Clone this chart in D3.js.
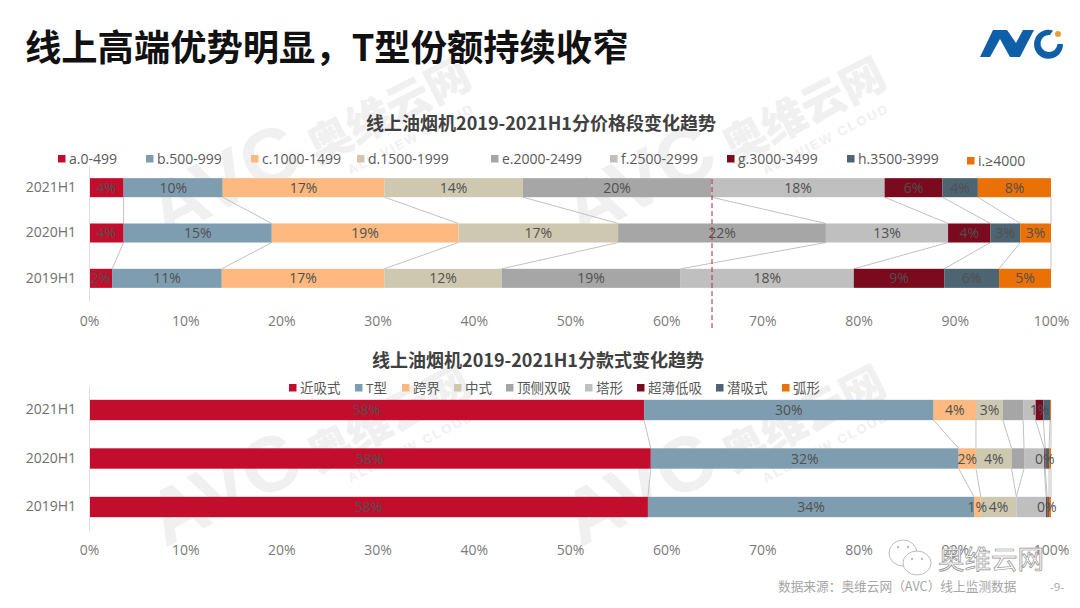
<!DOCTYPE html>
<html>
<head>
<meta charset="utf-8">
<script src="https://cdn.jsdelivr.net/npm/d3@7"></script>
<style>
  html, body { margin: 0; padding: 0; background: #fff; }
  svg { display: block; font-family: "Open Sans", "Noto Sans CJK SC", sans-serif; }
  .cjk { font-family: "Noto Sans CJK SC", sans-serif; }
</style>
</head>
<body>
<svg id="chart" width="1080" height="608"></svg>
<script>
const periods = ["2021H1", "2020H1", "2019H1"];
const xTicks = [0, 10, 20, 30, 40, 50, 60, 70, 80, 90, 100];

const priceSegments = ["a.0-499", "b.500-999", "c.1000-1499", "d.1500-1999", "e.2000-2499", "f.2500-2999", "g.3000-3499", "h.3500-3999", "i.≥4000"];
const price2021 = [3.6, 10.3, 16.8, 14.4, 19.6, 18.0, 6.0, 3.7, 7.6];
const price2020 = [3.6, 15.4, 19.4, 16.6, 21.6, 12.7, 4.4, 3.1, 3.2];
const price2019 = [2.4, 11.4, 16.9, 12.2, 18.6, 18.0, 9.4, 5.7, 5.4];

const styleSegments = ["近吸式", "T型", "跨界", "中式", "顶侧双吸", "塔形", "超薄低吸", "潜吸式", "弧形"];
const style2021 = [57.7, 30.1, 4.4, 2.8, 2.1, 1.3, 0.8, 0.7, 0.1];
const style2020 = [58.4, 32.0, 1.8, 3.7, 1.3, 2.1, 0.1, 0.4, 0.2];
const style2019 = [58.1, 33.9, 0.7, 3.7, 0.0, 3.1, 0.1, 0.2, 0.2];
const styleLabelled = ["近吸式", "T型", "跨界", "中式", "超薄低吸"];

const segmentColors = ["#c20e2c", "#7f9db1", "#fdb97f", "#cfc8b0", "#a6a6a6", "#bfbfbf", "#7a0a1e", "#4d6472", "#ea7105"];

const svg = d3.select("#chart");
const x = d3.scaleLinear().domain([0, 100]).range([89, 1051]);

function watermark(ox, oy) {
    const g = svg.append("g")
        .attr("transform", `translate(${ox},${oy}) rotate(-27)`)
        .attr("fill", "#f0f0f0");
    g.append("text").attr("x", 0).attr("y", 0)
        .attr("font-family", "Liberation Sans").attr("font-weight", 700).attr("font-size", 78)
        .text("AVC");
    g.append("text").attr("class", "cjk").attr("x", 170).attr("y", 2)
        .attr("font-weight", 900).attr("font-size", 44)
        .text("奥维云网");
    g.append("text").attr("x", 195).attr("y", 26)
        .attr("font-family", "Liberation Sans").attr("font-weight", 700).attr("font-size", 13)
        .attr("letter-spacing", 2)
        .text("ALL VIEW CLOUD");
}

function drawStack(opts) {
    const keys = opts.keys;
    const rows = periods.map((p, i) => {
        const row = { period: p };
        keys.forEach((k, j) => { row[k] = opts.values[i][j]; });
        return row;
    });
    const series = d3.stack().keys(keys)(rows);
    const color = d3.scaleOrdinal().domain(keys).range(segmentColors);
    const y = d3.scaleBand().domain(periods).range(opts.yRange).paddingInner(0.58).paddingOuter(0.29);

    const g = svg.append("g");

    // connector lines between the bars
    series.forEach((s) => {
        d3.pairs(s).forEach(([a, b]) => {
            g.append("line")
                .attr("x1", x(a[1])).attr("x2", x(b[1]))
                .attr("y1", y(a.data.period) + y.bandwidth())
                .attr("y2", y(b.data.period))
                .attr("stroke", "#c4c0c0").attr("stroke-width", 1);
        });
    });

    g.selectAll("g.seg").data(series).join("g").attr("class", "seg")
        .attr("fill", (s) => color(s.key))
        .selectAll("rect").data((s) => s).join("rect")
        .attr("x", (d) => x(d[0]))
        .attr("width", (d) => x(d[1]) - x(d[0]))
        .attr("y", (d) => y(d.data.period))
        .attr("height", y.bandwidth());

    series.filter((s) => opts.labelled.includes(s.key)).forEach((s) => {
        g.selectAll(null).data(s).join("text")
            .attr("x", (d) => x((d[0] + d[1]) / 2))
            .attr("y", (d) => y(d.data.period) + y.bandwidth() / 2)
            .attr("dy", "0.36em")
            .attr("text-anchor", "middle")
            .attr("font-size", 14)
            .attr("fill", "#505050")
            .text((d) => `${Math.round(d[1] - d[0])}%`);
    });

    const yAxis = g.append("g")
        .attr("transform", `translate(${x(0)},0)`)
        .call(d3.axisLeft(y).tickSize(0).tickPadding(13));
    yAxis.select(".domain").attr("stroke", "#e0e0e0");
    yAxis.selectAll("text").attr("font-size", 14).attr("fill", "#6f6f6f").attr("font-family", "Open Sans");

    const xAxis = g.append("g")
        .attr("transform", `translate(0,${opts.xAxisY})`)
        .call(d3.axisBottom(x).tickValues(xTicks).tickFormat((d) => `${d}%`).tickSize(0).tickPadding(0));
    xAxis.select(".domain").remove();
    xAxis.selectAll("text").attr("font-size", 14).attr("fill", "#7a7a7a").attr("font-family", "Open Sans");

    // legend
    const legend = g.selectAll("g.legend").data(keys).join("g").attr("class", "legend")
        .attr("transform", (k, i) => `translate(${opts.legendX[i]},${opts.legendY + (opts.legendDy ? opts.legendDy[i] : 0)})`);
    legend.append("rect").attr("x", -11).attr("y", -4).attr("width", 7.5).attr("height", 7.5)
        .attr("fill", (k) => color(k));
    legend.append("text").attr("dy", "0.36em").attr("font-size", opts.legendFont).attr("fill", "#595959").text((k) => k);

    svg.append("text").attr("class", "cjk")
        .attr("x", opts.titleX).attr("y", opts.titleY).attr("text-anchor", "middle")
        .attr("font-size", 18).attr("font-weight", 700).attr("fill", "#404040")
        .text(opts.title);
}

watermark(165, 240);
watermark(580, 240);
watermark(165, 548);
watermark(580, 548);

drawStack({
    keys: priceSegments,
    values: [price2021, price2020, price2019],
    labelled: priceSegments,
    yRange: [165, 301],
    xAxisY: 316,
    legendX: [69, 157, 262, 368, 502, 621, 738, 858, 978],
    legendY: 159,
    legendDy: [0, 0, 0, 0, 0, 0, 0, 0, 2],
    legendFont: 14,
    title: "线上油烟机2019-2021H1分价格段变化趋势",
    titleX: 541,
    titleY: 130
});

drawStack({
    keys: styleSegments,
    values: [style2021, style2020, style2019],
    labelled: styleLabelled,
    yRange: [385.75, 531.25],
    xAxisY: 545,
    legendX: [300, 366, 413, 465, 517, 596, 648, 727, 793],
    legendY: 388,
    legendFont: 13.5,
    title: "线上油烟机2019-2021H1分款式变化趋势",
    titleX: 538,
    titleY: 367
});

// reference line through the top chart
svg.append("line")
    .attr("x1", 712).attr("x2", 712).attr("y1", 179).attr("y2", 331)
    .attr("stroke", "#b5243f").attr("stroke-width", 1).attr("stroke-dasharray", "5,3");

// page title
svg.append("text").attr("class", "cjk")
    .attr("x", 25).attr("y", 61)
    .attr("font-size", 36.3).attr("font-weight", 700).attr("fill", "#111")
    .text("线上高端优势明显，T型份额持续收窄");

// logo
const logo = svg.append("g");
logo.append("path").attr("fill", "#0f5ea8")
    .attr("d", "M980,57 L993,30 L1007,30 L1016,43 L1023,30 L1034,30 L1020,57 L1010,57 L1000,39 L990,57 Z");
logo.append("path").attr("fill", "#0f5ea8")
    .attr("d", "M1053,30.5 A14.5,14.5 0 1 0 1063,44 L1057.5,44 A8.5,8.5 0 1 1 1050,35 Z");
logo.append("circle").attr("cx", 1058).attr("cy", 34).attr("r", 3).attr("fill", "#ee9a3a");

// wechat mark
const wx = svg.append("g").attr("fill", "#fff").attr("stroke", "#bdbdbd").attr("stroke-width", 1);
wx.append("ellipse").attr("cx", 903).attr("cy", 553).attr("rx", 14).attr("ry", 13);
wx.append("ellipse").attr("cx", 917).attr("cy", 563).attr("rx", 14).attr("ry", 12);
[[898, 547], [908, 547], [912, 559], [922, 559]].forEach(([ex, ey]) => {
    wx.append("circle").attr("cx", ex).attr("cy", ey).attr("r", 1.2).attr("fill", "#bdbdbd").attr("stroke", "none");
});
svg.append("text").attr("class", "cjk")
    .attr("x", 938).attr("y", 569)
    .attr("font-size", 26.5).attr("fill", "#fff").attr("stroke", "#8f8f8f").attr("stroke-width", 0.7)
    .text("奥维云网");

// footer
svg.append("text").attr("class", "cjk")
    .attr("x", 778).attr("y", 591)
    .attr("font-size", 12.7).attr("fill", "#a6a6a6")
    .text("数据来源：奥维云网（AVC）线上监测数据");
svg.append("text")
    .attr("x", 1050).attr("y", 591)
    .attr("font-size", 11.5).attr("fill", "#a6a6a6")
    .text("-9-");
</script>
</body>
</html>
